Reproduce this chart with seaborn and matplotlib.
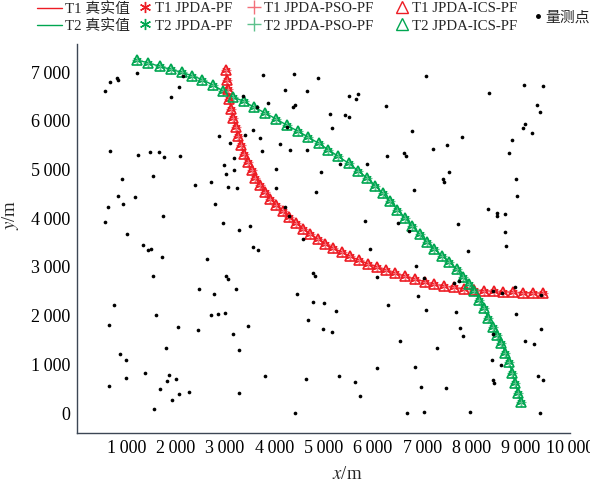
import matplotlib
matplotlib.use("Agg")
import matplotlib.pyplot as plt
import seaborn as sns
from matplotlib.lines import Line2D
from matplotlib.ticker import FuncFormatter, FixedLocator

# ---------------- data ----------------
t1_x = [3020, 3040, 3060, 3090, 3130, 3170, 3220, 3270, 3330, 3390, 3460, 3540,
        3620, 3710, 3810, 3920, 4040, 4170, 4300, 4440, 4580, 4730, 4880, 5040,
        5200, 5370, 5540, 5720, 5900, 6080, 6270, 6460, 6650, 6850, 7050, 7250,
        7450, 7650, 7850, 8050, 8250, 8450, 8650, 8850, 9050, 9250, 9450]
t1_y = [7050, 6850, 6650, 6450, 6250, 6060, 5870, 5690, 5500, 5330, 5160, 4990,
        4830, 4680, 4530, 4400, 4270, 4140, 4020, 3900, 3790, 3680, 3580, 3480,
        3390, 3300, 3220, 3140, 3070, 3000, 2930, 2870, 2810, 2750, 2700, 2650,
        2610, 2580, 2550, 2530, 2510, 2500, 2490, 2480, 2470, 2470, 2460]

t2_x = [1220, 1450, 1680, 1900, 2120, 2330, 2540, 2750, 2960, 3160, 3380, 3600,
        3820, 4040, 4260, 4480, 4690, 4900, 5100, 5300, 5510, 5700, 5880, 6050,
        6200, 6350, 6500, 6650, 6800, 6950, 7100, 7250, 7400, 7550, 7700, 7830,
        7950, 8060, 8160, 8250, 8340, 8430, 8520, 8610, 8690, 8760, 8830, 8890,
        8950, 9000]
t2_y = [7250, 7190, 7120, 7060, 7000, 6930, 6850, 6740, 6620, 6500, 6400, 6280,
        6160, 6040, 5910, 5790, 5670, 5540, 5410, 5270, 5130, 4980, 4830, 4670,
        4510, 4350, 4180, 4010, 3840, 3670, 3510, 3370, 3230, 3100, 2960, 2800,
        2650, 2500, 2330, 2150, 1960, 1770, 1600, 1440, 1240, 1040, 830, 620,
        420, 220]

meas = [(568, 6609), (669, 6808), (804, 6883), (825, 6849), (1224, 6979), (2157, 6931),
        (2075, 6698), (1913, 6486), (662, 5386), (1230, 5297), (1474, 5352), (1663, 5365),
        (1758, 5249), (2096, 5284), (906, 4798), (1535, 4867), (838, 4463), (629, 4238),
        (940, 4286), (1170, 4429), (568, 3930), (1751, 4053), (1014, 3670), (1338, 3445),
        (1433, 3342), (1494, 3370), (1724, 3212), (2386, 4675), (2724, 4743), (2799, 4292),
        (2887, 5700), (2954, 3896), (2981, 5092), (3022, 4914), (3062, 4641), (3252, 4620),
        (3110, 5543), (3177, 5229), (3184, 4990), (3285, 3759), (3508, 3848), (3563, 3411),
        (3677, 3342), (2643, 3165), (1535, 2816), (3022, 2823), (3056, 2755), (2474, 2543),
        (2778, 2454), (3231, 2543), (750, 2228), (1609, 2009), (2724, 2009), (2853, 2030),
        (3008, 2064), (642, 1811), (2042, 1763), (2447, 1702), (3164, 1627), (3475, 1784),
        (1798, 1326), (865, 1210), (987, 1087), (3279, 1285), (1386, 813), (994, 718),
        (1866, 786), (1825, 663), (2014, 704), (656, 547), (1683, 485), (2075, 390),
        (2271, 431), (1933, 273), (1562, 89), (3279, 417), (3813, 752), (4421, 7),
        (4644, 690), (3360, 6514), (3657, 6281), (3772, 6944), (3880, 6363), (4408, 6965),
        (4218, 6630), (4380, 6295), (4414, 6329), (4658, 6623), (4894, 6890), (3400, 5714),
        (3563, 5817), (3711, 5639), (3759, 5379), (4110, 5536), (4259, 5885), (4326, 5413),
        (4664, 5413), (4036, 5010), (4029, 4621), (4218, 4231), (4299, 4046), (4854, 4545),
        (4942, 4955), (4577, 3575), (4793, 2878), (4833, 2809), (4455, 2440), (4779, 2283),
        (5009, 2269), (4691, 1914), (4989, 1716),
        (7080, 6931), (5511, 6521), (5654, 6459), (5701, 6562), (5138, 6152), (5430, 6117),
        (5518, 6083), (5165, 5864), (6265, 6302), (6801, 5789), (7813, 5680), (8363, 6568),
        (9062, 6746), (9443, 6726), (9334, 6329), (9395, 6193), (9083, 5933), (9056, 5864),
        (9239, 5762), (8831, 5618), (8763, 5338), (7514, 5509), (7215, 5427), (6638, 5338),
        (6679, 5277), (6278, 5277), (5885, 5106), (5341, 5106), (7541, 4955), (7419, 4805),
        (7446, 4750), (6835, 4586), (8899, 4805), (8933, 4463), (8343, 4197), (8519, 4101),
        (8519, 4053), (8675, 4081), (5837, 3951), (6516, 3910), (7738, 3875), (6740, 3732),
        (8675, 3711), (8702, 3424), (5952, 3363), (7922, 3322), (6876, 3028), (6081, 2802),
        (7039, 2775), (7643, 2672), (7745, 2707), (8444, 2508), (8614, 2474), (8879, 2590),
        (9409, 2420), (5260, 2105), (6299, 2228), (6917, 2399), (7073, 2126), (7684, 2085),
        (8913, 2044), (5165, 1668), (7759, 1750), (7834, 1579), (6550, 1476), (7304, 1346),
        (9409, 1716), (9096, 1476), (9273, 1415), (8438, 1627), (6081, 923), (6862, 950),
        (5314, 766), (5647, 629), (5742, 349), (6971, 533), (7480, 506), (8424, 1080),
        (8600, 977), (8438, 677), (8451, 615), (9348, 759), (9456, 684), (6693, 7),
        (7032, 27), (7969, 27), (9382, 7)]
meas_x = [p[0] for p in meas]
meas_y = [p[1] for p in meas]

x_ticks = [1000, 2000, 3000, 4000, 5000, 6000, 7000, 8000, 9000, 10000]
y_ticks = [0, 1000, 2000, 3000, 4000, 5000, 6000, 7000]

labels_t1 = ["T1 真实值", "T1 JPDA-PF", "T1 JPDA-PSO-PF", "T1 JPDA-ICS-PF"]
labels_t2 = ["T2 真实值", "T2 JPDA-PF", "T2 JPDA-PSO-PF", "T2 JPDA-ICS-PF"]
label_meas = "量测点"

# ---------------- style ----------------
sns.set_style("white")
plt.rcParams["font.family"] = ["Liberation Serif", "Noto Sans CJK SC"]
plt.rcParams["mathtext.fontset"] = "stix"

RED = "#ED1C24"
RED_L = "#F3707A"
GRN = "#00A651"
GRN_L = "#5DC18C"
SPINE = "#3c4654"

fig = plt.figure(figsize=(5.9, 4.82), dpi=100)
ax = fig.add_axes([77 / 590, 1 - 433 / 482, (570 - 77) / 590, (433 - 44) / 482])

# measurement points
sns.scatterplot(x=meas_x, y=meas_y, ax=ax, color="black", s=7, linewidth=0,
                legend=False, zorder=5)

def draw_track(xs, ys, c, cl):
    sns.lineplot(x=xs, y=ys, ax=ax, sort=False, estimator=None, color=c,
                 linewidth=1.0, legend=False, zorder=2)
    sns.lineplot(x=xs, y=ys, ax=ax, sort=False, estimator=None, linestyle="",
                 marker=(6, 2, 0), markersize=6, markeredgecolor=c,
                 markeredgewidth=0.9, color=c, legend=False, zorder=3)
    sns.lineplot(x=xs, y=ys, ax=ax, sort=False, estimator=None, linestyle="",
                 marker="+", markersize=7, markeredgecolor=cl,
                 markeredgewidth=0.9, color=cl, legend=False, zorder=3)
    sns.lineplot(x=xs, y=ys, ax=ax, sort=False, estimator=None, linestyle="",
                 marker="^", markersize=7, markerfacecolor="none",
                 markeredgecolor=c, markeredgewidth=1.2, color=c,
                 legend=False, zorder=4)

draw_track(t1_x, t1_y, RED, RED_L)
draw_track(t2_x, t2_y, GRN, GRN_L)

ax.set_xlim(0, 10000)
ax.set_ylim(-410, 7580)
ax.xaxis.set_major_locator(FixedLocator(x_ticks))
ax.yaxis.set_major_locator(FixedLocator(y_ticks))
fmt = FuncFormatter(lambda v, p: f"{int(v):,}".replace(",", "\u2009"))
ax.xaxis.set_major_formatter(fmt)
ax.yaxis.set_major_formatter(fmt)
ax.tick_params(direction="in", length=4, width=1, colors=SPINE,
               labelcolor="black", labelsize=13, pad=5)
for s in ["top", "right"]:
    ax.spines[s].set_visible(False)
for s in ["left", "bottom"]:
    ax.spines[s].set_color(SPINE)
    ax.spines[s].set_linewidth(1.0)

ax.set_xlabel(r"$x$/m", fontsize=13.5)
ax.set_ylabel(r"$y$/m", fontsize=13.5)
ax.xaxis.set_label_coords((347 - 77) / 493, -(466 - 433) / 389)
ax.yaxis.set_label_coords(-(77 - 21) / 493, (433 - 215) / 389)

# ---------------- legends ----------------
LFS = 10.7
def col_legend(handles, labels, x_px, hl, y_px=2):
    lg = fig.legend(handles, labels, loc="upper left",
                    bbox_to_anchor=(x_px / 590, 1 - y_px / 482),
                    frameon=False, fontsize=LFS, handlelength=hl,
                    handletextpad=0.25, borderpad=0, borderaxespad=0,
                    labelspacing=0.25)
    return lg

h_line = [Line2D([], [], color=RED, lw=1.0), Line2D([], [], color=GRN, lw=1.0)]
h_star = [Line2D([], [], ls="", marker=(6, 2, 0), ms=8, mec=RED, mew=1),
          Line2D([], [], ls="", marker=(6, 2, 0), ms=8, mec=GRN, mew=1)]
h_plus = [Line2D([], [], ls="", marker="+", ms=10, mec=RED_L, mew=1),
          Line2D([], [], ls="", marker="+", ms=10, mec=GRN_L, mew=1)]
h_tri = [Line2D([], [], ls="", marker="^", ms=9, mfc="none", mec=RED, mew=1),
         Line2D([], [], ls="", marker="^", ms=9, mfc="none", mec=GRN, mew=1)]
h_dot = [Line2D([], [], ls="", marker="o", ms=2.5, color="black")]

col_legend(h_line, [labels_t1[0], labels_t2[0]], 37, 1.65)
col_legend(h_star, [labels_t1[1], labels_t2[1]], 139, 0.8)
col_legend(h_plus, [labels_t1[2], labels_t2[2]], 248, 0.8)
col_legend(h_tri, [labels_t1[3], labels_t2[3]], 396, 0.8)
col_legend(h_dot, [label_meas], 535, 0.45, y_px=11)

fig.savefig("out.png", dpi=100)
